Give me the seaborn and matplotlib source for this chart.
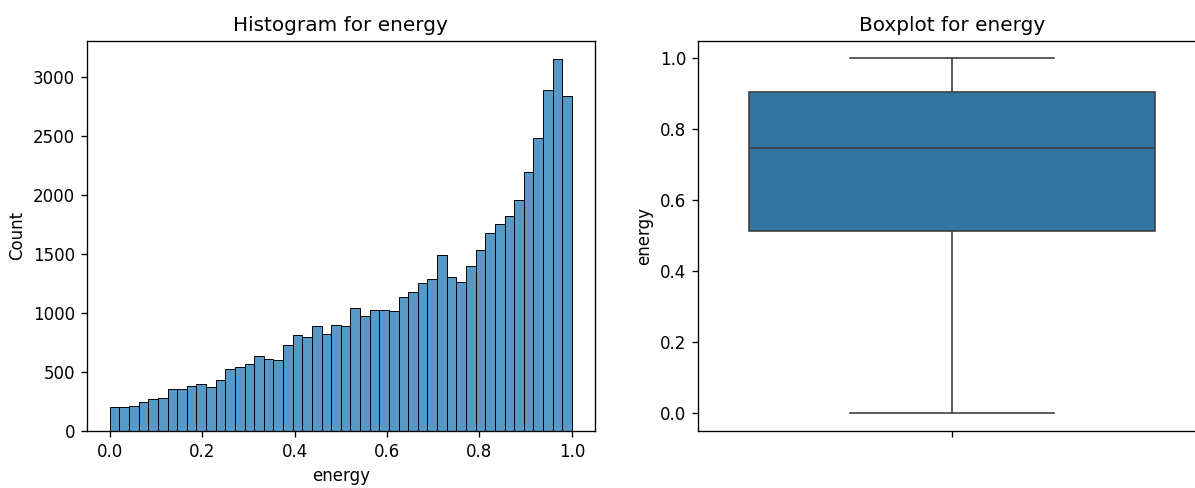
import numpy as np
import pandas as pd
import matplotlib
matplotlib.use("Agg")
import matplotlib.pyplot as plt
import seaborn as sns

# Histogram counts (48 equal bins over 0..1)
hist_counts = [203, 203, 214, 248, 268, 279, 352, 352, 383, 394, 375, 428,
               524, 544, 566, 634, 608, 600, 730, 814, 794, 887, 825, 899,
               887, 1039, 972, 1025, 1025, 1014, 1135, 1175, 1251, 1285, 1487, 1304,
               1262, 1400, 1530, 1679, 1755, 1820, 1958, 2194, 2482, 2890, 3146, 2837]
bin_low, bin_high = 0.0, 1.0

# Boxplot summary values: min, Q1, median, Q3, max
box_values = [0.0, 0.513, 0.747, 0.906, 1.0]

variable = "energy"

n_bins = len(hist_counts)
bin_edges = np.linspace(bin_low, bin_high, n_bins + 1)
bin_centers = (bin_edges[:-1] + bin_edges[1:]) / 2
hist_df = pd.DataFrame({variable: bin_centers, "count": hist_counts})
box_df = pd.DataFrame({variable: box_values})

dpi = 120
W, H = 1195, 488
fig = plt.figure(figsize=(W / dpi, H / dpi), dpi=dpi)

def px_axes(x0, y0, x1, y1):
    return fig.add_axes([x0 / W, 1 - y1 / H, (x1 - x0) / W, (y1 - y0) / H])

ax1 = px_axes(86.7, 40.7, 595, 431)
ax2 = px_axes(697.7, 40.7, 1206, 431)

sns.histplot(data=hist_df, x=variable, weights="count", bins=n_bins,
             binrange=(bin_low, bin_high), ax=ax1)
ax1.set_title(f"Histogram for {variable}")
ax1.set_xlabel(variable)
ax1.set_ylabel("Count")

sns.boxplot(data=box_df, y=variable, ax=ax2)
ax2.set_title(f"Boxplot for {variable}")
ax2.set_ylabel(variable)
# the reference image is cropped just before this axes' right edge
ax2.spines["right"].set_visible(False)

fig.savefig("out.png", dpi=dpi)
